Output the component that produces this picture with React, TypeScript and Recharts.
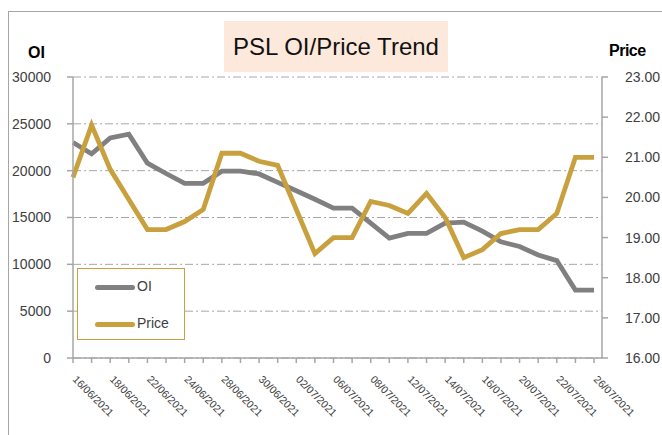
import * as React from 'react';
import { CartesianGrid, Line, LineChart, XAxis, YAxis } from 'recharts';

const dates = [
  '16/06/2021', '17/06/2021', '18/06/2021', '21/06/2021', '22/06/2021', '23/06/2021', '24/06/2021', '25/06/2021',
  '28/06/2021', '29/06/2021', '30/06/2021', '01/07/2021', '02/07/2021', '05/07/2021', '06/07/2021', '07/07/2021',
  '08/07/2021', '09/07/2021', '12/07/2021', '13/07/2021', '14/07/2021', '15/07/2021', '16/07/2021', '19/07/2021',
  '20/07/2021', '21/07/2021', '22/07/2021', '23/07/2021', '26/07/2021'
];

const oiValues = [
  23000, 21800, 23500, 23900, 20800, 19700, 18650, 18650, 19950, 19950, 19650, 18750, 17850, 16950, 16000, 16000,
  14400, 12800, 13300, 13300, 14400, 14500, 13550, 12400, 11900, 11000, 10400, 7250, 7250
];

const priceValues = [
  20.5, 21.8, 20.7, 19.95, 19.2, 19.2, 19.4, 19.7, 21.1, 21.1, 20.9, 20.8, 19.7, 18.6, 19.0, 19.0,
  19.9, 19.8, 19.6, 20.1, 19.5, 18.5, 18.7, 19.1, 19.2, 19.2, 19.6, 21.0, 21.0
];

const oiTicks = [0, 5000, 10000, 15000, 20000, 25000, 30000];
const priceTicks = [16, 17, 18, 19, 20, 21, 22, 23];

const data = dates.map((date, i) => ({ date, oi: oiValues[i], price: priceValues[i] }));

const FONT = '"Liberation Sans", Arial, sans-serif';
const GRAY = '#808080';
const GOLD = '#c9a03e';
const AXIS = '#a6a6a6';
const TEXT = '#404040';

// every other date gets a label, ticks on all of them
function DateTick(props: any) {
  const { x, y, payload, index } = props;
  if (index % 2 !== 0) return null;
  const ax = x - 1;
  const ay = y + 17;
  return (
    <text
      x={ax}
      y={ay}
      transform={`rotate(45 ${ax} ${ay})`}
      textAnchor='start'
      fontSize={10.5}
      fontFamily={FONT}
      fill={TEXT}
    >
      {payload.value}
    </text>
  );
}

export default function App() {
  return (
    <div
      style={{
        position: 'fixed',
        left: 0,
        top: 0,
        width: 662,
        height: 435,
        overflow: 'hidden',
        background: '#fff',
        fontFamily: FONT
      }}
    >
      <div
        style={{ position: 'absolute', left: 8, top: 11, width: 700, height: 500, border: `1.5px solid ${AXIS}` }}
      />
      <LineChart width={662} height={435} data={data} margin={{ top: 77, right: 0, bottom: 0, left: 0 }}>
        <CartesianGrid yAxisId='left' vertical={false} stroke={AXIS} strokeDasharray='8 3 2 3' />
        <XAxis
          dataKey='date'
          interval={0}
          height={77}
          tickSize={5}
          tickMargin={0}
          padding={{ left: 0, right: 8 }}
          axisLine={{ stroke: AXIS, strokeWidth: 1.5 }}
          tickLine={{ stroke: AXIS, strokeWidth: 1.5 }}
          tick={<DateTick />}
        />
        <YAxis
          yAxisId='left'
          orientation='left'
          width={73}
          domain={[0, 30000]}
          ticks={oiTicks}
          interval={0}
          tickSize={6}
          tickMargin={16}
          axisLine={{ stroke: AXIS, strokeWidth: 1.5 }}
          tickLine={{ stroke: AXIS, strokeWidth: 1.5 }}
          tick={{ fill: TEXT, fontSize: 14, fontFamily: FONT }}
        />
        <YAxis
          yAxisId='right'
          orientation='right'
          width={60}
          domain={[16, 23]}
          ticks={priceTicks}
          interval={0}
          tickSize={6}
          tickMargin={17}
          tickFormatter={(v) => v.toFixed(2)}
          axisLine={{ stroke: AXIS, strokeWidth: 1.5 }}
          tickLine={{ stroke: AXIS, strokeWidth: 1.5 }}
          tick={{ fill: TEXT, fontSize: 14, fontFamily: FONT }}
        />
        <Line
          yAxisId='left'
          type='linear'
          dataKey='oi'
          stroke={GRAY}
          strokeWidth={4.8}
          dot={false}
          activeDot={false}
          isAnimationActive={false}
        />
        <Line
          yAxisId='right'
          type='linear'
          dataKey='price'
          stroke={GOLD}
          strokeWidth={4.8}
          dot={false}
          activeDot={false}
          isAnimationActive={false}
        />
      </LineChart>

      <div
        style={{
          position: 'absolute',
          left: 224,
          top: 21,
          width: 224,
          height: 51,
          background: '#fde9db',
          color: '#111',
          fontSize: 24,
          lineHeight: '51px',
          textAlign: 'center'
        }}
      >
        PSL OI/Price Trend
      </div>

      <div style={{ position: 'absolute', left: 28, top: 45, fontSize: 16, lineHeight: '16px', fontWeight: 'bold', color: '#000' }}>
        OI
      </div>
      <div
        style={{
          position: 'absolute',
          left: 609,
          top: 43,
          fontSize: 16,
          lineHeight: '16px',
          fontWeight: 'bold',
          letterSpacing: -0.5,
          color: '#000'
        }}
      >
        Price
      </div>

      {/* legend box */}
      <div
        style={{
          position: 'absolute',
          left: 77,
          top: 268,
          width: 106,
          height: 70,
          border: `1.5px solid ${GOLD}`,
          background: '#fff',
          fontSize: 14,
          color: TEXT
        }}
      >
        {[
          { name: 'OI', color: GRAY, y: 18 },
          { name: 'Price', color: GOLD, y: 55 }
        ].map((item) => (
          <React.Fragment key={item.name}>
            <div
              style={{
                position: 'absolute',
                left: 17,
                top: item.y - 2.5,
                width: 40,
                height: 5,
                borderRadius: 3,
                background: item.color
              }}
            />
            <div style={{ position: 'absolute', left: 59, top: item.y - 9, lineHeight: '16px' }}>{item.name}</div>
          </React.Fragment>
        ))}
      </div>
    </div>
  );
}
